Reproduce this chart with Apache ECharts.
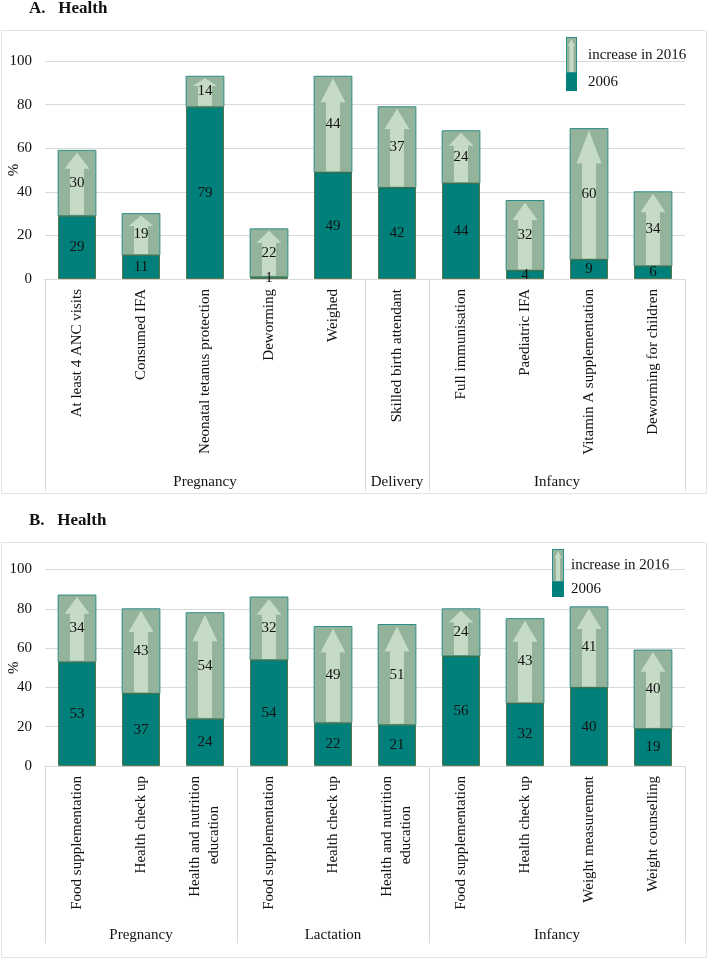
<!DOCTYPE html>
<html>
<head>
<meta charset="utf-8">
<script src="https://cdn.jsdelivr.net/npm/echarts@6/dist/echarts.min.js"></script>
<style>
  html, body { margin: 0; padding: 0; background: #fff; }
  #health-chart { width: 708px; height: 960px; }
</style>
</head>
<body>
<div id="health-chart"></div>
<script>
// panel A
var cats_a = ['At least 4 ANC visits', 'Consumed IFA', 'Neonatal tetanus protection', 'Deworming', 'Weighed',
  'Skilled birth attendant', 'Full immunisation', 'Paediatric IFA', 'Vitamin A supplementation', 'Deworming for children'];
var base_a = [29, 11, 79, 1, 49, 42, 44, 4, 9, 6];
var incr_a = [30, 19, 14, 22, 44, 37, 24, 32, 60, 34];
var groups_a = ['Pregnancy', 'Delivery', 'Infancy'];
var group_size_a = [5, 1, 4];

// panel B
var cats_b = ['Food supplementation', 'Health check up', 'Health and nutrition\neducation        ',
  'Food supplementation', 'Health check up', 'Health and nutrition\neducation        ',
  'Food supplementation', 'Health check up', 'Weight measurement', 'Weight counselling'];
var base_b = [53, 37, 24, 54, 22, 21, 56, 32, 40, 19];
var incr_b = [34, 43, 54, 32, 49, 51, 24, 43, 41, 40];
var groups_b = ['Pregnancy', 'Lactation', 'Infancy'];
var group_size_b = [3, 3, 4];

var y_ticks = [0, 20, 40, 60, 80, 100];

var SERIF = '"Liberation Serif", "Times New Roman", serif';
var TEAL = '#00807b';
var SAGE = '#93b39a';
var PALE = '#c6dbc6';
var EDGE = '#2f8c8a';
var GRID_LINE = '#d9d9d9';

function group_bounds(sizes) {
  var b = [0];
  for (var i = 0; i < sizes.length; i++) b.push(b[i] + sizes[i]);
  return b;
}
function group_centers(sizes) {
  var b = group_bounds(sizes), c = [];
  for (var i = 0; i < sizes.length; i++) c.push((b[i] + b[i + 1]) / 2);
  return c;
}

function render_increase(params, api) {
  var idx = api.value(0);
  var lo = api.coord([idx, api.value(1)]);
  var hi = api.coord([idx, api.value(1) + api.value(2)]);
  var w = api.size([1, 0])[0] * 0.59;
  var cx = lo[0];
  var h = lo[1] - hi[1];
  var top = hi[1] + 2;
  var neck = top + h * 0.25;
  var hw = w * 0.33, sw = w * 0.185;
  return {
    type: 'group',
    children: [{
      type: 'rect',
      shape: { x: cx - w / 2, y: hi[1], width: w, height: h },
      style: { fill: SAGE, stroke: EDGE, lineWidth: 1 }
    }, {
      type: 'polygon',
      shape: { points: [[cx, top], [cx + hw, neck], [cx + sw, neck], [cx + sw, lo[1] - 1],
        [cx - sw, lo[1] - 1], [cx - sw, neck], [cx - hw, neck]] },
      style: { fill: PALE }
    }, {
      type: 'text',
      x: cx,
      y: (lo[1] + hi[1]) / 2,
      style: { text: String(api.value(2)), align: 'center', verticalAlign: 'middle',
        font: '15px ' + SERIF, fill: '#111' }
    }]
  };
}

function svg_icon(w, h, barw, upper) {
  var s = '<svg xmlns="http://www.w3.org/2000/svg" width="' + w + '" height="' + h + '">';
  if (upper) {
    var m = barw / 2;
    s += '<rect x="0.5" y="0.5" width="' + (barw - 1) + '" height="' + (h - 1) + '" fill="' + SAGE + '" stroke="' + EDGE + '"/>';
    s += '<polygon points="' + m + ',2 ' + (m + 3.5) + ',9 ' + (m + 2) + ',9 ' + (m + 2) + ',' + (h - 1) + ' ' +
      (m - 2) + ',' + (h - 1) + ' ' + (m - 2) + ',9 ' + (m - 3.5) + ',9" fill="' + PALE + '"/>';
  } else {
    s += '<rect x="0" y="0" width="' + barw + '" height="' + h + '" fill="' + TEAL + '"/>';
  }
  s += '</svg>';
  return 'image://data:image/svg+xml;charset=utf-8,' + encodeURIComponent(s);
}

function make_panel(k, cats, base, incr, groups, sizes, sepLen, groupMargin) {
  var bounds = group_bounds(sizes);
  var centers = group_centers(sizes);
  var xAxes = [{
    type: 'category',
    gridIndex: k,
    data: cats,
    axisLine: { lineStyle: { color: GRID_LINE } },
    axisTick: { show: false },
    axisLabel: { interval: 0, rotate: 90, margin: 10, color: '#111', fontSize: 15, fontFamily: SERIF, lineHeight: 19 }
  }, {
    type: 'value',
    gridIndex: k,
    min: 0,
    max: cats.length,
    position: 'bottom',
    axisLine: { show: false },
    splitLine: { show: false },
    axisTick: { show: true, customValues: bounds, length: sepLen, lineStyle: { color: GRID_LINE } },
    axisLabel: {
      customValues: centers,
      margin: groupMargin,
      color: '#111', fontSize: 15, fontFamily: SERIF,
      formatter: function (v) {
        for (var i = 0; i < centers.length; i++) if (Math.abs(centers[i] - v) < 1e-6) return groups[i];
        return '';
      }
    }
  }];
  var yAxis = {
    type: 'value',
    gridIndex: k,
    min: 0, max: 100, interval: 20,
    name: '%',
    nameLocation: 'middle',
    nameGap: 23,
    nameRotate: 90,
    nameMoveOverlap: false,
    nameTextStyle: { color: '#111', fontSize: 15, fontFamily: SERIF },
    axisLine: { show: false },
    axisTick: { show: false },
    splitLine: { lineStyle: { color: GRID_LINE } },
    axisLabel: { color: '#111', fontSize: 15, fontFamily: SERIF, margin: 13 }
  };
  var series = [{
    name: '2006',
    type: 'bar',
    xAxisIndex: 2 * k,
    yAxisIndex: k,
    barWidth: '59%',
    data: base,
    z: 3,
    itemStyle: { color: TEAL, borderColor: '#4a5e2a', borderWidth: 0.8 },
    label: { show: true, position: 'inside', color: '#111', fontSize: 15, fontFamily: SERIF }
  }, {
    name: 'increase in 2016',
    type: 'custom',
    xAxisIndex: 2 * k,
    yAxisIndex: k,
    renderItem: render_increase,
    encode: { x: 0, y: 1 },
    data: base.map(function (b, i) { return [i, b, incr[i]]; }),
    z: 2
  }];
  return { xAxes: xAxes, yAxis: yAxis, series: series };
}

var pa = make_panel(0, cats_a, base_a, incr_a, groups_a, group_size_a, 212, 196);
var pb = make_panel(1, cats_b, base_b, incr_b, groups_b, group_size_b, 177, 162);

var chart = echarts.init(document.getElementById('health-chart'));
var legendText = { color: '#111', fontSize: 15, fontFamily: SERIF };

var option = {
  backgroundColor: '#fff',
  animation: false,
  title: [{
    text: 'A.   Health', left: 29, top: 0, padding: 0,
    textStyle: { fontFamily: SERIF, fontWeight: 'bold', fontSize: 17, color: '#111' }
  }, {
    text: 'B.   Health', left: 29, top: 512, padding: 0,
    textStyle: { fontFamily: SERIF, fontWeight: 'bold', fontSize: 17, color: '#111' }
  }],
  graphic: [{
    type: 'rect', shape: { x: 1.5, y: 30.5, width: 705, height: 463 },
    style: { fill: 'none', stroke: '#e2e2e2', lineWidth: 1 }, z: -1
  }, {
    type: 'rect', shape: { x: 1.5, y: 542.5, width: 705, height: 415 },
    style: { fill: 'none', stroke: '#e2e2e2', lineWidth: 1 }, z: -1
  }],
  legend: [{
    data: [{ name: 'increase in 2016', icon: svg_icon(17, 36, 11, true) }],
    left: 566, top: 37, padding: 0, itemWidth: 17, itemHeight: 36,
    selectedMode: false, textStyle: legendText
  }, {
    data: [{ name: '2006', icon: svg_icon(17, 18, 11, false) }],
    left: 566, top: 73, padding: 0, itemWidth: 17, itemHeight: 18,
    selectedMode: false, textStyle: legendText
  }, {
    data: [{ name: 'increase in 2016', icon: svg_icon(14, 33, 12, true) }],
    left: 552, top: 549, padding: 0, itemWidth: 14, itemHeight: 33,
    selectedMode: false, textStyle: legendText
  }, {
    data: [{ name: '2006', icon: svg_icon(14, 15, 12, false) }],
    left: 552, top: 582, padding: 0, itemWidth: 14, itemHeight: 15,
    selectedMode: false, textStyle: legendText
  }],
  grid: [
    { left: 45, right: 23, top: 61, bottom: 681, outerBoundsMode: 'none', containLabel: false },
    { left: 45, right: 23, top: 569.5, bottom: 194, outerBoundsMode: 'none', containLabel: false }
  ],
  xAxis: pa.xAxes.concat(pb.xAxes),
  yAxis: [pa.yAxis, pb.yAxis],
  series: pa.series.concat(pb.series)
};

chart.setOption(option);
window.addEventListener('resize', function () {
  chart.resize();
});
</script>
</body>
</html>
